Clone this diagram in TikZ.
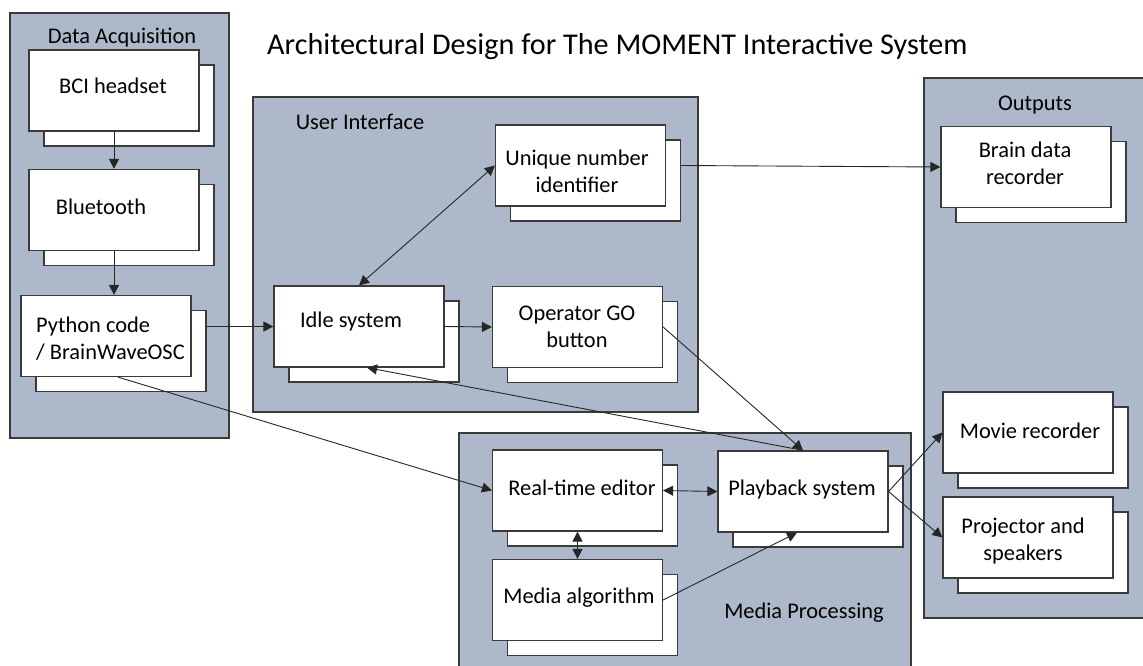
\documentclass[tikz,border=0pt]{standalone}
\usepackage{fontspec}
\setmainfont{Carlito}
\usetikzlibrary{arrows.meta,shadows,calc}

\definecolor{groupfill}{HTML}{ADB9CA}
\definecolor{edge}{HTML}{3A3A3A}

\tikzset{
  group/.style={draw=edge, fill=groupfill, line width=1.2pt},
  grouptitle/.style={font=\fontsize{22.4}{27}\selectfont, text=black, inner sep=0pt},
  card/.style={draw=edge, fill=white, line width=1.2pt,
    minimum width=170pt, minimum height=81pt, inner sep=0pt,
    copy shadow={shadow xshift=15pt, shadow yshift=-15pt}},
  cardtext/.style={font=\fontsize{22.4}{27}\selectfont, align=center, inner sep=0pt},
  tip/.tip={Triangle[length=10pt,width=10pt]},
  link/.style={draw=black!85, line width=0.9pt, -tip},
  twoway/.style={draw=black!85, line width=0.9pt, tip-tip},
}

\begin{document}
\begin{tikzpicture}[x=1pt,y=-1pt]
\useasboundingbox (0,0) rectangle (1143,666);

% title
\node[font=\fontsize{30.2}{36}\selectfont, anchor=west, inner sep=0pt] (title) at (267,47)
  {Architectural Design for The MOMENT Interactive System};

% group panels
\draw[group] (10,13) rectangle (229,438);
\draw[group] (253,97) rectangle (698,412);
\draw[group] (459,433) rectangle (911,680);
\draw[group] (924,78) rectangle (1150,618);

\node[grouptitle] (tDA)  at (122,38)  {Data Acquisition};
\node[grouptitle] (tUI)  at (360,122) {User Interface};
\node[grouptitle] (tMP)  at (804,613) {Media Processing};
\node[grouptitle] (tOUT) at (1035,105) {Outputs};

% data acquisition chain
\node[card] (bci) at (114,90.5) {};
\node[card] (bt)  at (114,210)  {};
\node[card] (py)  at (106,336)  {};
\node[cardtext] (bci-t) at (113,86)  {BCI headset};
\node[cardtext] (bt-t)  at (101,207) {Bluetooth};
\node[cardtext, align=left, anchor=west] (py-t) at (36,339) {Python code\\/ BrainWaveOSC};

% user interface
\node[card] (uni)  at (580.5,165.5) {};
\node[card] (idle) at (359,326.5)   {};
\node[card] (op)   at (577.5,327)   {};
\node[cardtext] (uni-t)  at (577,171)   {Unique number\\identifier};
\node[cardtext] (idle-t) at (351,322)   {Idle system};
\node[cardtext] (op-t)   at (577,326.5) {Operator GO\\button};

% media processing
\node[card] (rte) at (577.5,490.5) {};
\node[card] (pb)  at (803,491.5)   {};
\node[card] (ma)  at (577.5,600)   {};
\node[cardtext] (rte-t) at (582,488) {Real-time editor};
\node[cardtext] (pb-t)  at (802,490) {Playback system};
\node[cardtext] (ma-t)  at (579,598) {Media algorithm};

% outputs
\node[card] (brain) at (1026,167)   {};
\node[card] (movie) at (1028,432.5) {};
\node[card] (proj)  at (1028,537.5) {};
\node[cardtext] (brain-t) at (1025,163) {Brain data\\recorder};
\node[cardtext] (movie-t) at (1030,431) {Movie recorder};
\node[cardtext] (proj-t)  at (1023,541) {Projector and\\speakers};

% connectors
\draw[link] (bci.south) -- (bt.north);
\draw[link] (bt.south) -- (bt.south |- py.north);
\draw[link] ([xshift=15pt]py.east |- idle.west) -- (idle.west);
\draw[link] ([xshift=12pt]py.south) -- (rte.west);
\draw[twoway] (idle.north) -- (uni.west);
\draw[link] (idle.east) -- (op.west);
\draw[link] (op.east) -- (pb.north);
\draw[link] (pb.north) -- ([xshift=8pt]idle.south);
\draw[link] ([xshift=15pt]uni.east) -- (brain.west);
\draw[twoway] (rte.east) -- (pb.west);
\draw[twoway] (rte.south) -- (ma.north);
\draw[link] (ma.east) -- ([xshift=-6pt]pb.south);
\draw[link] (pb.east) -- (movie.west);
\draw[link] (pb.east) -- (proj.west);
\end{tikzpicture}
\end{document}
